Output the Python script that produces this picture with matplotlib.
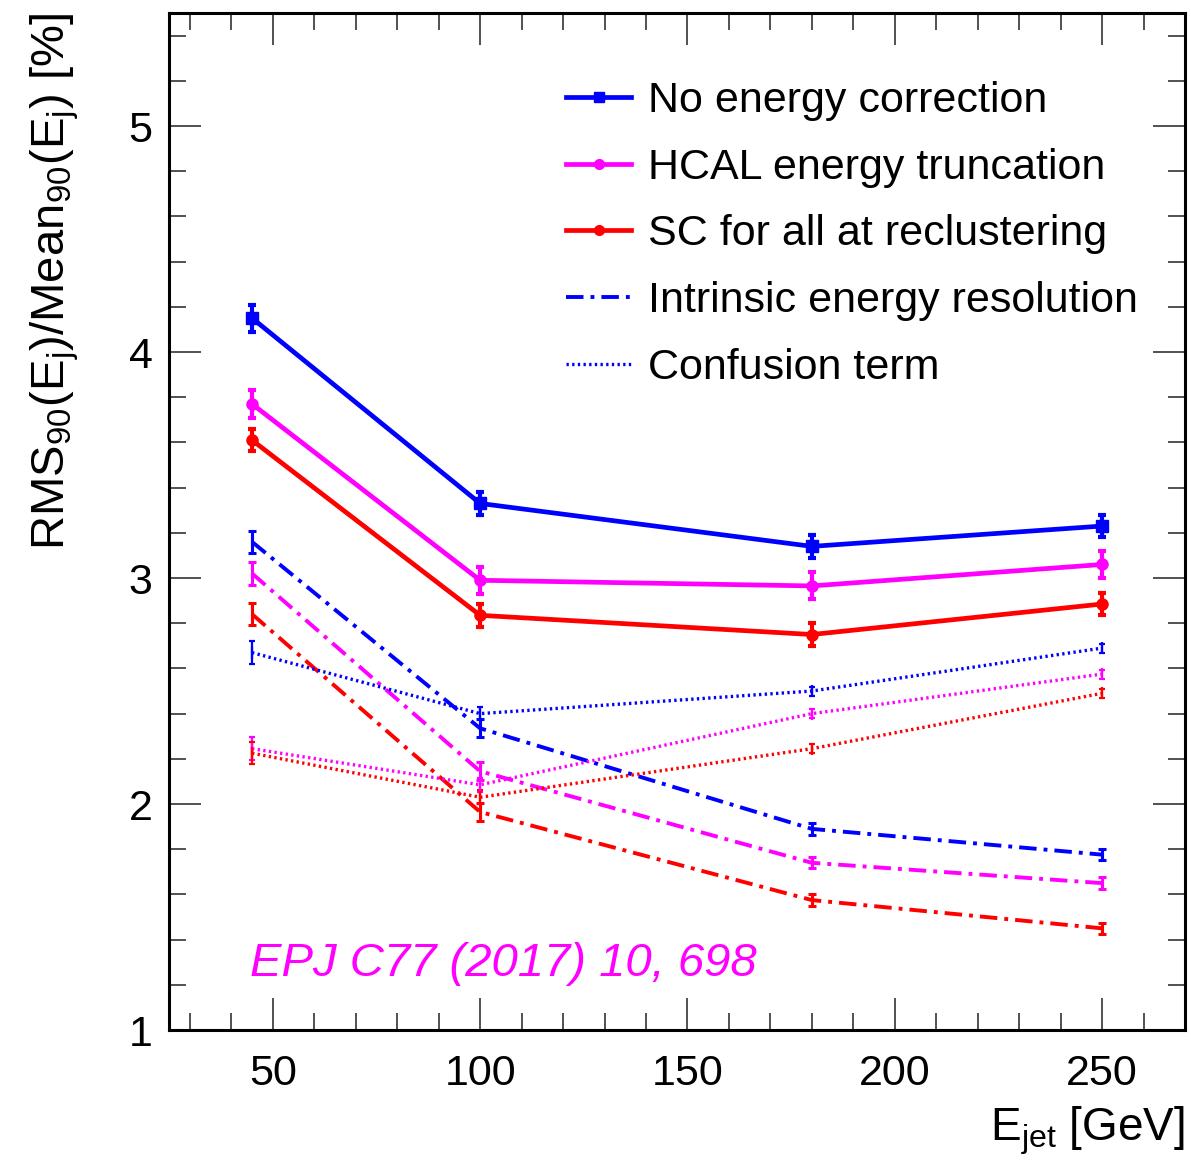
import matplotlib
matplotlib.use("Agg")
import matplotlib.pyplot as plt
from matplotlib.ticker import MultipleLocator
from matplotlib.lines import Line2D

plt.rcParams['font.family'] = ['Liberation Sans', 'DejaVu Sans']
plt.rcParams['mathtext.fontset'] = 'custom'
plt.rcParams['mathtext.rm'] = 'Liberation Sans'
plt.rcParams['mathtext.it'] = 'Liberation Sans:italic'

# jet energies [GeV]
e_jet = [45, 100, 180, 250]

# solid lines
no_corr = [4.15, 3.33, 3.14, 3.23]
no_corr_err = [0.06, 0.05, 0.05, 0.05]
hcal_trunc = [3.77, 2.99, 2.965, 3.06]
hcal_trunc_err = [0.06, 0.06, 0.06, 0.06]
sc_reclus = [3.61, 2.835, 2.75, 2.885]
sc_reclus_err = [0.05, 0.05, 0.05, 0.05]

# intrinsic energy resolution (dash-dot)
intr_blue = [3.16, 2.335, 1.89, 1.776]
intr_mag = [3.02, 2.145, 1.74, 1.65]
intr_red = [2.84, 1.965, 1.575, 1.45]
intr_err = [0.05, 0.04, 0.025, 0.025]

# confusion term (dotted)
conf_blue = [2.67, 2.40, 2.50, 2.69]
conf_mag = [2.245, 2.085, 2.40, 2.575]
conf_red = [2.225, 2.03, 2.245, 2.49]
conf_err = [0.05, 0.03, 0.02, 0.02]

labels = ['No energy correction', 'HCAL energy truncation',
          'SC for all at reclustering', 'Intrinsic energy resolution',
          'Confusion term']

BLUE = '#0000ff'
MAG = '#ff00ff'
RED = '#ff0000'

fig = plt.figure(figsize=(11.91, 11.61), dpi=100)
ax = fig.add_axes([0.142, 0.1128, 0.853, 0.876])

dashdot = (0, (4.5, 1.8, 1.0, 1.8))
dotted = (0, (0.7, 1.0))

for y, err, col, mk in [(no_corr, no_corr_err, BLUE, 's'),
                        (hcal_trunc, hcal_trunc_err, MAG, 'o'),
                        (sc_reclus, sc_reclus_err, RED, 'o')]:
    ax.errorbar(e_jet, y, yerr=err, color=col, lw=3.4, marker=mk, ms=8,
                elinewidth=3, capsize=3, capthick=3)

for y, col in [(intr_blue, BLUE), (intr_mag, MAG), (intr_red, RED)]:
    ax.errorbar(e_jet, y, yerr=intr_err, color=col, lw=2.8, ls=dashdot,
                marker='|', ms=8, mew=2.2, elinewidth=2.2, capsize=3, capthick=2.2)

for y, col in [(conf_blue, BLUE), (conf_mag, MAG), (conf_red, RED)]:
    ax.errorbar(e_jet, y, yerr=conf_err, color=col, lw=2.4, ls=dotted,
                marker='|', ms=8, mew=1.6, elinewidth=1.6, capsize=2.5, capthick=1.6)

handles = [
    Line2D([], [], color=BLUE, lw=3.4, marker='s', ms=7),
    Line2D([], [], color=MAG, lw=3.4, marker='o', ms=7),
    Line2D([], [], color=RED, lw=3.4, marker='o', ms=7),
    Line2D([], [], color=BLUE, lw=2.8, ls=dashdot),
    Line2D([], [], color=BLUE, lw=2.4, ls=dotted),
]

ax.set_xlim(25, 270)
ax.set_ylim(1, 5.5)
ax.xaxis.set_major_locator(MultipleLocator(50))
ax.xaxis.set_minor_locator(MultipleLocator(10))
ax.yaxis.set_major_locator(MultipleLocator(1))
ax.yaxis.set_minor_locator(MultipleLocator(0.2))
ax.tick_params(which='both', direction='in', top=True, right=True, width=1.2,
               color='#333333', labelsize=31)
ax.tick_params(which='major', length=23)
ax.tick_params(which='minor', length=12)
ax.tick_params(axis='x', which='major', pad=17)
ax.tick_params(axis='y', which='major', pad=12)
for s in ax.spines.values():
    s.set_linewidth(2.2)

ax.set_ylabel(r'RMS$_{90}$(E$_{\rm j}$)/Mean$_{90}$(E$_{\rm j}$) [%]',
              fontsize=34, loc='top', labelpad=34)
ax.set_xlabel(r'E$_{\rm jet}$ [GeV]', fontsize=33, loc='right', labelpad=8)

ax.legend(handles, labels, loc='upper left', bbox_to_anchor=(0.374, 0.950),
          frameon=False, fontsize=31, handlelength=1.5, handletextpad=0.4,
          labelspacing=0.62, borderaxespad=0)

ax.text(44.5, 1.24, 'EPJ C77 (2017) 10, 698', color=MAG, fontsize=34,
        style='italic', ha='left', va='baseline')

fig.savefig('out.png', dpi=100)
